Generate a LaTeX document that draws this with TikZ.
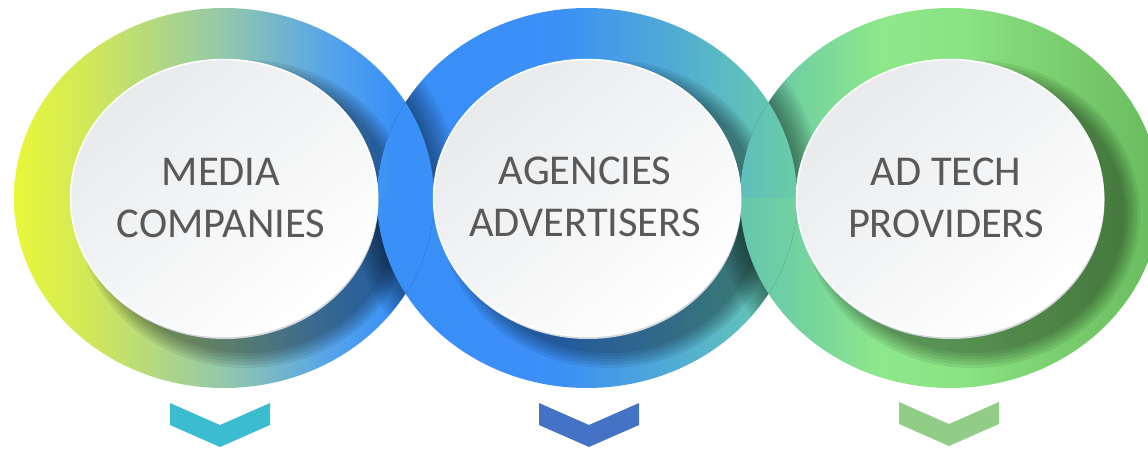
\documentclass[tikz,border=0pt]{standalone}
\usepackage{fontspec}
\setmainfont{Carlito}

\definecolor{ringAa}{HTML}{E9F73A}
\definecolor{ringAb}{HTML}{CDE65E}
\definecolor{ringAc}{HTML}{93C8AA}
\definecolor{ringAd}{HTML}{55A4EA}
\definecolor{ringAe}{HTML}{3A90F6}
\definecolor{ringBa}{HTML}{3A90F6}
\definecolor{ringBb}{HTML}{3A8EF8}
\definecolor{ringBc}{HTML}{3C90F5}
\definecolor{ringBd}{HTML}{4CA4DC}
\definecolor{ringBe}{HTML}{5CBCC0}
\definecolor{ringBf}{HTML}{6ACCA6}
\definecolor{ringCa}{HTML}{66C6AE}
\definecolor{ringCb}{HTML}{70D0A2}
\definecolor{ringCc}{HTML}{8EE88A}
\definecolor{ringCd}{HTML}{8AE282}
\definecolor{ringCe}{HTML}{78CC6C}
\definecolor{ringCf}{HTML}{68BC5E}
\definecolor{discgrey}{HTML}{E8EAEC}
\definecolor{discmid}{HTML}{FCFCFD}
\definecolor{discedge}{HTML}{D4D8DC}
\definecolor{captiongrey}{HTML}{595959}

\pgfdeclarehorizontalshading{ringA}{100bp}{color(0bp)=(ringAa); color(25bp)=(ringAa); color(35bp)=(ringAb); color(50bp)=(ringAc); color(62.5bp)=(ringAd); color(70bp)=(ringAe); color(100bp)=(ringAe)}
\pgfdeclarehorizontalshading{ringB}{100bp}{color(0bp)=(ringBa); color(25bp)=(ringBa); color(35bp)=(ringBb); color(47bp)=(ringBc); color(57bp)=(ringBd); color(67bp)=(ringBe); color(75bp)=(ringBf); color(100bp)=(ringBf)}
\pgfdeclarehorizontalshading{ringC}{100bp}{color(0bp)=(ringCa); color(25bp)=(ringCa); color(31bp)=(ringCb); color(42bp)=(ringCc); color(52bp)=(ringCd); color(64bp)=(ringCe); color(75bp)=(ringCf); color(100bp)=(ringCf)}

\tikzset{
  discshadow/.style={black, opacity=0.07},
  linkshadow/.style={black, opacity=0.05},
  caption/.style={text=captiongrey, align=center, font=\fontsize{42.5}{52}\selectfont}
}

\begin{document}
\begin{tikzpicture}[x=1pt, y=1pt]
\useasboundingbox (0,0) rectangle (1148,448);
\coordinate (r1) at (224,250);
\coordinate (r2) at (587,250);
\coordinate (r3) at (950,250);

% rings
\shade[shading=ringA] (r1) ellipse (210 and 190);
\shade[shading=ringB] (r2) ellipse (210 and 190);
\shade[shading=ringC] (r3) ellipse (210 and 190);

% shadows under the discs
\foreach \c in {r1,r2,r3}{
  \begin{scope}
    \clip (\c) ellipse (210 and 190);
    \foreach \k in {0,...,5}
      \fill[discshadow] ([shift={(22,-16)}]\c) ellipse [x radius=153+3*\k, y radius=139+3*\k];
  \end{scope}
}

% links: left ring on top above the middle, right ring on top below it
\foreach \a/\b/\sa/\sb in {r1/r2/ringA/ringB, r2/r3/ringB/ringC}{
  \begin{scope}
    \clip (\b) ellipse (210 and 190);
    \clip (0,250) rectangle (1148,448);
    \foreach \k in {1,...,9}
      \fill[linkshadow] (\a) ellipse [x radius=210+3*\k, y radius=190+3*\k];
    \shade[shading=\sa] (\a) ellipse (210 and 190);
  \end{scope}
  \begin{scope}
    \clip (\a) ellipse (210 and 190);
    \clip (0,0) rectangle (1148,250);
    \foreach \k in {1,...,9}
      \fill[linkshadow] (\b) ellipse [x radius=210+3*\k, y radius=190+3*\k];
    \shade[shading=\sb] (\b) ellipse (210 and 190);
  \end{scope}
}

% white discs
\foreach \c in {r1,r2,r3}{
  \fill[discedge] ([shift={(1,-2.5)}]\c) ellipse (153.5 and 138.5);
  \shade[top color=discgrey, middle color=discmid, bottom color=white, shading angle=40, draw=white, line width=1.5pt] (\c) ellipse (153.5 and 138.5);
}

% labels
\node[caption] (media) at (221,250) {MEDIA\\COMPANIES};
\node[caption] (agencies) at (585,251) {AGENCIES\\ADVERTISERS};
\node[caption] (adtech) at (946,250) {AD TECH\\PROVIDERS};

% chevrons
\definecolor{col}{HTML}{3BBCD0}
\fill[col] (170,45) -- ++(50,-22) -- ++(50,22) -- ++(0,-22) -- ++(-50,-22) -- ++(-50,22) -- cycle;
\definecolor{col}{HTML}{4472C4}
\fill[col] (539,45) -- ++(50,-22) -- ++(50,22) -- ++(0,-22) -- ++(-50,-22) -- ++(-50,22) -- cycle;
\definecolor{col}{HTML}{92CD87}
\fill[col] (899,46) -- ++(50,-22) -- ++(50,22) -- ++(0,-22) -- ++(-50,-22) -- ++(-50,22) -- cycle;
\end{tikzpicture}
\end{document}
